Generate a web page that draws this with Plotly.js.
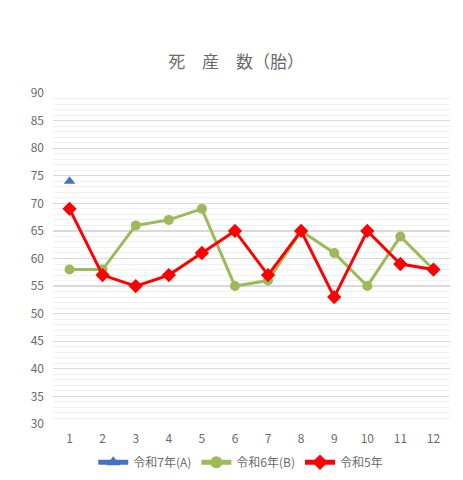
<!DOCTYPE html>
<html><head><meta charset="utf-8">
<script src="https://cdn.plot.ly/plotly-3.0.1.min.js"></script>
<style>html,body{margin:0;padding:0;background:#fff}#c{width:463px;height:480px}</style>
</head><body><div id="c"></div>
<script>
var months = ['1','2','3','4','5','6','7','8','9','10','11','12'];
var seriesA = [74];
var seriesB = [58,58,66,67,69,55,56,65,61,55,64,58];
var seriesC = [69,57,55,57,61,65,57,65,53,65,59,58];
var nameA = '令和7年(A)';
var nameB = '令和6年(B)';
var nameC = '令和5年';
var titleText = '死　産　数（胎）';

var fam = '"Noto Sans CJK JP", "Noto Sans", sans-serif';
var txt = '#6a6a6a';
var traces = [
  {x: months.slice(0, seriesA.length), y: seriesA, name: nameA, type:'scatter', mode:'lines+markers',
   line:{color:'#4472C4', width:3}, marker:{symbol:'triangle-up', size:10, color:'#4472C4'}},
  {x: months, y: seriesB, name: nameB, type:'scatter', mode:'lines+markers',
   line:{color:'#9BBB59', width:3}, marker:{symbol:'circle', size:10, color:'#9BBB59'}},
  {x: months, y: seriesC, name: nameC, type:'scatter', mode:'lines+markers',
   line:{color:'#FF0000', width:3}, marker:{symbol:'diamond', size:11, color:'#FF0000'}}
];
var layout = {
  width:463, height:480,
  margin:{l:53, r:13, t:93, b:56, autoexpand:false},
  paper_bgcolor:'#fff', plot_bgcolor:'#fff',
  font:{family:fam, color:txt, size:12},
  title:{text:titleText, x:0.51, xanchor:'center', y:0.87, yanchor:'middle', font:{size:17, color:txt, family:fam}},
  xaxis:{type:'category', range:[-0.5, 11.5], showgrid:false, zeroline:false, showline:false, ticks:'',
         tickfont:{size:12, color:txt}, ticklabelstandoff:6, fixedrange:true, automargin:false},
  yaxis:{range:[30, 90], dtick:5, tick0:30, showgrid:true, gridcolor:'#D9D9D9', gridwidth:1.3, zeroline:false,
         showline:false, ticks:'', tickfont:{size:12, color:txt}, ticklabelstandoff:8, automargin:false,
         minor:{dtick:1, showgrid:true, gridcolor:'#F0F0F0', gridwidth:1}},
  showlegend:true,
  legend:{orientation:'h', x:0.52, xanchor:'center', xref:'container', yref:'container', y:0.037, yanchor:'middle',
          font:{size:12, color:txt}, itemsizing:'constant', traceorder:'normal'}
};
Plotly.newPlot('c', traces, layout, {displayModeBar:false, staticPlot:true});
</script></body></html>
